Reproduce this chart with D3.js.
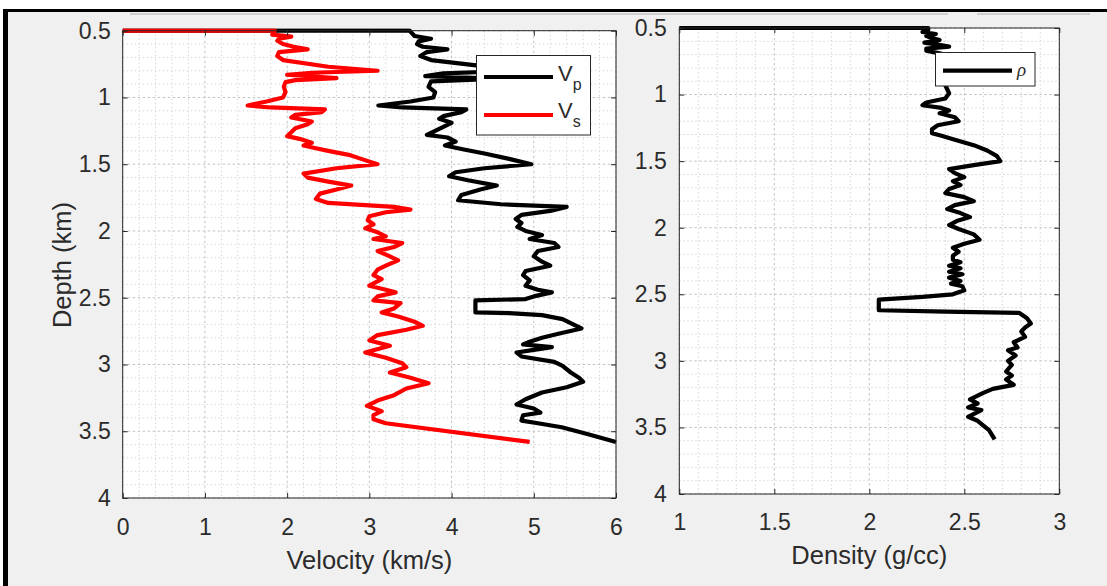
<!DOCTYPE html>
<html>
<head>
<meta charset="utf-8">
<script src="https://cdn.jsdelivr.net/npm/d3@7"></script>
<style>
  html, body { margin: 0; padding: 0; background: #ffffff; }
  svg { display: block; font-family: "Liberation Sans", Arial, Helvetica, sans-serif; }
</style>
</head>
<body>
<svg id="chart" width="1107" height="586"></svg>
<script>
// ---- well-log data: depth (km) and the logged value at that depth ----
const vsDepth = [0.500,0.500,0.510,0.530,0.545,0.560,0.575,0.600,0.620,0.640,0.660,0.690,0.720,0.770,0.800,0.815,0.830,0.855,0.870,0.885,0.920,0.960,1.000,1.030,1.060,1.075,1.090,1.110,1.130,1.150,1.180,1.200,1.230,1.260,1.290,1.310,1.340,1.360,1.380,1.400,1.430,1.460,1.500,1.530,1.570,1.600,1.630,1.660,1.690,1.720,1.760,1.790,1.820,1.840,1.860,1.890,1.920,1.950,1.980,2.010,2.040,2.060,2.090,2.120,2.150,2.190,2.220,2.260,2.290,2.330,2.360,2.410,2.440,2.460,2.490,2.520,2.540,2.580,2.610,2.640,2.680,2.710,2.740,2.780,2.820,2.860,2.910,2.950,2.990,3.020,3.060,3.100,3.140,3.180,3.230,3.270,3.310,3.350,3.380,3.410,3.440,3.580];
const vsVel   = [0.00,1.85,1.84,1.82,2.05,1.90,1.88,1.95,2.08,2.25,1.90,1.88,1.95,2.50,3.10,2.30,2.00,2.60,2.10,1.98,1.96,1.98,1.95,1.75,1.52,1.80,2.46,2.42,2.10,2.05,2.30,2.25,2.10,2.05,2.00,2.15,2.30,2.20,2.35,2.50,2.75,2.90,3.10,2.60,2.20,2.25,2.50,2.78,2.60,2.40,2.35,2.50,3.30,3.50,3.20,3.00,2.98,3.05,2.95,3.10,3.20,3.05,3.40,3.30,3.10,3.25,3.35,3.20,3.10,3.05,3.15,3.00,3.20,3.32,3.10,3.05,3.38,3.30,3.15,3.35,3.55,3.65,3.45,3.10,3.00,3.25,2.95,3.20,3.40,3.45,3.25,3.50,3.72,3.45,3.30,3.10,2.97,3.15,3.05,3.05,3.20,4.95];

const vpDepth = [0.500,0.500,0.520,0.540,0.560,0.580,0.600,0.620,0.640,0.660,0.690,0.720,0.760,0.800,0.820,0.840,0.860,0.880,0.920,0.960,1.000,1.030,1.060,1.075,1.090,1.110,1.140,1.160,1.190,1.220,1.250,1.280,1.300,1.330,1.360,1.390,1.420,1.460,1.500,1.530,1.560,1.590,1.620,1.660,1.690,1.730,1.770,1.800,1.820,1.850,1.880,1.910,1.940,1.970,2.000,2.030,2.060,2.090,2.120,2.150,2.190,2.230,2.260,2.300,2.330,2.370,2.410,2.440,2.460,2.490,2.510,2.520,2.610,2.615,2.630,2.660,2.700,2.730,2.770,2.800,2.830,2.850,2.870,2.890,2.910,2.940,2.980,3.010,3.060,3.100,3.130,3.170,3.210,3.260,3.300,3.330,3.360,3.380,3.420,3.440,3.470,3.520,3.580];
const vpVel   = [0.00,3.49,3.52,3.55,3.75,3.60,3.58,3.65,3.95,3.70,3.62,3.75,4.30,4.80,3.90,3.68,4.60,3.75,3.72,3.80,3.78,3.50,3.11,3.40,4.18,4.12,3.90,3.85,4.00,3.90,3.80,3.70,3.95,4.05,3.92,4.15,4.40,4.70,4.97,4.40,4.05,3.97,4.20,4.55,4.35,4.12,4.08,4.60,5.40,5.20,4.85,4.78,4.85,4.80,4.90,5.10,4.95,5.25,5.30,5.05,5.00,5.10,5.20,4.90,4.87,4.95,4.90,5.05,5.22,5.00,4.90,4.29,4.29,4.70,5.10,5.35,5.48,5.58,5.30,5.10,4.95,4.87,5.22,5.00,4.79,4.85,5.25,5.35,5.45,5.55,5.60,5.40,5.10,4.90,4.79,5.00,5.08,4.87,4.85,5.05,5.34,5.65,6.00];

const rhoDepth = [0.500,0.500,0.515,0.530,0.545,0.560,0.575,0.590,0.610,0.625,0.640,0.655,0.670,0.700,0.750,0.800,0.850,0.900,0.930,0.960,0.990,1.030,1.060,1.080,1.100,1.120,1.140,1.170,1.200,1.230,1.260,1.290,1.310,1.340,1.380,1.420,1.460,1.500,1.530,1.560,1.590,1.620,1.650,1.680,1.710,1.740,1.770,1.800,1.830,1.860,1.890,1.920,1.950,1.980,2.010,2.050,2.090,2.120,2.150,2.180,2.210,2.240,2.260,2.285,2.305,2.330,2.350,2.375,2.400,2.420,2.440,2.470,2.500,2.520,2.540,2.620,2.630,2.640,2.680,2.720,2.750,2.780,2.820,2.860,2.900,2.920,2.960,3.000,3.030,3.080,3.110,3.140,3.180,3.210,3.240,3.290,3.320,3.350,3.370,3.420,3.450,3.520,3.590];
const rhoVal   = [1.00,2.31,2.31,2.28,2.35,2.30,2.33,2.37,2.29,2.36,2.42,2.30,2.30,2.40,2.45,2.43,2.46,2.42,2.40,2.41,2.42,2.40,2.30,2.28,2.38,2.42,2.37,2.45,2.47,2.36,2.33,2.33,2.38,2.45,2.55,2.62,2.67,2.69,2.55,2.42,2.45,2.50,2.44,2.48,2.42,2.40,2.50,2.55,2.45,2.41,2.48,2.53,2.46,2.42,2.47,2.55,2.58,2.50,2.44,2.47,2.44,2.44,2.48,2.42,2.48,2.42,2.49,2.42,2.48,2.43,2.49,2.50,2.44,2.28,2.05,2.05,2.40,2.79,2.83,2.85,2.82,2.80,2.82,2.76,2.78,2.73,2.77,2.73,2.75,2.72,2.75,2.72,2.76,2.65,2.60,2.53,2.57,2.52,2.59,2.52,2.57,2.63,2.66];

// ---- axis tick labels ----
const depthTicks    = [0.5, 1, 1.5, 2, 2.5, 3, 3.5, 4];
const velocityTicks = [0, 1, 2, 3, 4, 5, 6];
const densityTicks  = [1, 1.5, 2, 2.5, 3];

const W = 1107, H = 586;
const svg = d3.select("#chart");
const TEXT = "#2b2b2b";
const AXIS = "#262626";
const TICK_FS = 23, LABEL_FS = 25.5, LINE_W = 4.2;

// figure window background and frame
svg.append("rect").attr("x", 8).attr("y", 12).attr("width", W).attr("height", H).attr("fill", "#f0f0f0");
svg.append("rect").attr("x", 3).attr("y", 9).attr("width", W).attr("height", 3).attr("fill", "#000");
svg.append("rect").attr("x", 3).attr("y", 9).attr("width", 5).attr("height", H).attr("fill", "#000");
svg.append("rect").attr("x", 130).attr("y", 13).attr("width", 818).attr("height", 2).attr("fill", "#cfcfcf");
svg.append("rect").attr("x", 977).attr("y", 13).attr("width", 113).attr("height", 2).attr("fill", "#cfcfcf");

const toPoints = (depths, vals) => depths.map((d, i) => ({ d: d, v: vals[i] }));

function drawPanel(cfg) {
  const g = svg.append("g");
  const x = d3.scaleLinear().domain(cfg.xDomain).range([cfg.left, cfg.right]);
  const y = d3.scaleLinear().domain([0.5, 4]).range([cfg.top, cfg.bottom]);

  g.append("rect")
    .attr("x", cfg.left).attr("y", cfg.top)
    .attr("width", cfg.right - cfg.left).attr("height", cfg.bottom - cfg.top)
    .attr("fill", "#ffffff");

  // minor + major grid (dotted)
  const near = (a, list) => list.some(t => Math.abs(t - a) < 1e-6);
  const xMinor = d3.range(cfg.xDomain[0], cfg.xDomain[1] + 1e-9, cfg.xMinorStep)
    .filter(v => !near(v, cfg.xTicks));
  const yMinor = d3.range(0.5, 4 + 1e-9, 0.1).filter(v => !near(v, depthTicks));

  const grid = g.append("g");
  grid.selectAll("line.xm").data(xMinor).join("line")
    .attr("x1", d => x(d)).attr("x2", d => x(d))
    .attr("y1", cfg.top).attr("y2", cfg.bottom)
    .attr("stroke", "#d6d6d6").attr("stroke-width", 1).attr("stroke-dasharray", "1.5,2.5");
  grid.selectAll("line.ym").data(yMinor).join("line")
    .attr("y1", d => y(d)).attr("y2", d => y(d))
    .attr("x1", cfg.left).attr("x2", cfg.right)
    .attr("stroke", "#d6d6d6").attr("stroke-width", 1).attr("stroke-dasharray", "1.5,2.5");
  grid.selectAll("line.xM").data(cfg.xTicks).join("line")
    .attr("x1", d => x(d)).attr("x2", d => x(d))
    .attr("y1", cfg.top).attr("y2", cfg.bottom)
    .attr("stroke", "#c2c2c2").attr("stroke-width", 1).attr("stroke-dasharray", "2.5,2.5");
  grid.selectAll("line.yM").data(depthTicks).join("line")
    .attr("y1", d => y(d)).attr("y2", d => y(d))
    .attr("x1", cfg.left).attr("x2", cfg.right)
    .attr("stroke", "#c2c2c2").attr("stroke-width", 1).attr("stroke-dasharray", "2.5,2.5");

  // log curves, clipped to the axes area
  const clipId = "clip-" + cfg.id;
  svg.append("defs").append("clipPath").attr("id", clipId)
    .append("rect")
    .attr("x", cfg.left - 2).attr("y", cfg.top - 2.5)
    .attr("width", cfg.right - cfg.left + 4).attr("height", cfg.bottom - cfg.top + 5);

  const line = d3.line().x(p => x(p.v)).y(p => y(p.d));
  const curves = g.append("g").attr("clip-path", `url(#${clipId})`);
  cfg.series.forEach(s => {
    curves.append("path")
      .datum(s.points)
      .attr("d", line)
      .attr("fill", "none")
      .attr("stroke", s.color)
      .attr("stroke-width", LINE_W)
      .attr("stroke-linejoin", "round")
      .attr("stroke-linecap", "butt");
  });

  // axes with inward ticks on all four sides
  const styleAxis = sel => {
    sel.select(".domain").remove();
    sel.selectAll(".tick line").attr("stroke", AXIS).attr("stroke-width", 1);
    sel.selectAll(".tick text").attr("fill", TEXT).style("font-size", TICK_FS + "px");
  };
  const fmt = d => String(d);

  g.append("g").attr("transform", `translate(0,${cfg.bottom})`)
    .call(d3.axisBottom(x).tickValues(cfg.xTicks).tickSize(-5).tickPadding(cfg.xPad).tickFormat(fmt))
    .call(styleAxis);
  g.append("g").attr("transform", `translate(0,${cfg.top})`)
    .call(d3.axisTop(x).tickValues(cfg.xTicks).tickSize(-5).tickFormat(""))
    .call(styleAxis);
  g.append("g").attr("transform", `translate(${cfg.left},0)`)
    .call(d3.axisLeft(y).tickValues(depthTicks).tickSize(-5).tickPadding(cfg.yPad).tickFormat(fmt))
    .call(styleAxis);
  g.append("g").attr("transform", `translate(${cfg.right},0)`)
    .call(d3.axisRight(y).tickValues(depthTicks).tickSize(-5).tickFormat(""))
    .call(styleAxis);

  g.append("rect")
    .attr("x", cfg.left).attr("y", cfg.top)
    .attr("width", cfg.right - cfg.left).attr("height", cfg.bottom - cfg.top)
    .attr("fill", "none").attr("stroke", AXIS).attr("stroke-width", 1);

  // x-axis title
  g.append("text")
    .attr("x", (cfg.left + cfg.right) / 2).attr("y", cfg.xLabelY)
    .attr("text-anchor", "middle").attr("dominant-baseline", "central")
    .attr("fill", TEXT).style("font-size", LABEL_FS + "px")
    .text(cfg.xLabel);

  return { g, x, y };
}

// ---- left panel: P- and S-wave velocity ----
drawPanel({
  id: "vel", left: 122.7, right: 616, top: 30.7, bottom: 498,
  xDomain: [0, 6], xTicks: velocityTicks, xMinorStep: 0.2,
  xPad: 21, yPad: 12, xLabel: "Velocity (km/s)", xLabelY: 560,
  series: [
    { color: "#000000", points: toPoints(vpDepth, vpVel) },
    { color: "#ff0000", points: toPoints(vsDepth, vsVel) }
  ]
});

svg.append("text")
  .attr("transform", "translate(62,265) rotate(-90)")
  .attr("text-anchor", "middle").attr("dominant-baseline", "central")
  .attr("fill", TEXT).style("font-size", LABEL_FS + "px")
  .text("Depth (km)");

// legend: Vp / Vs
const lg = svg.append("g");
lg.append("rect").attr("x", 476.5).attr("y", 55.5).attr("width", 114).attr("height", 79.5)
  .attr("fill", "#fff").attr("stroke", AXIS).attr("stroke-width", 1);
[
  { color: "#000000", y: 77, base: "V", sub: "p", ty: 80.5 },
  { color: "#ff0000", y: 115, base: "V", sub: "s", ty: 117.5 }
].forEach(e => {
  lg.append("line").attr("x1", 484).attr("x2", 553).attr("y1", e.y).attr("y2", e.y)
    .attr("stroke", e.color).attr("stroke-width", LINE_W);
  const t = lg.append("text").attr("x", 558).attr("y", e.ty).attr("fill", TEXT).style("font-size", "22px");
  t.append("tspan").text(e.base);
  t.append("tspan").attr("dy", 9).style("font-size", "16px").text(e.sub);
});

// ---- right panel: bulk density ----
drawPanel({
  id: "rho", left: 679.3, right: 1059.3, top: 28, bottom: 494,
  xDomain: [1, 3], xTicks: densityTicks, xMinorStep: 0.1,
  xPad: 20, yPad: 12.5, xLabel: "Density (g/cc)", xLabelY: 555,
  series: [
    { color: "#000000", points: toPoints(rhoDepth, rhoVal) }
  ]
});

// legend: rho
const rg = svg.append("g");
rg.append("rect").attr("x", 935.5).attr("y", 52.5).attr("width", 99.5).attr("height", 33.5)
  .attr("fill", "#fff").attr("stroke", AXIS).attr("stroke-width", 1);
rg.append("line").attr("x1", 943).attr("x2", 1012).attr("y1", 70.7).attr("y2", 70.7)
  .attr("stroke", "#000").attr("stroke-width", LINE_W);
rg.append("text").attr("x", 1017).attr("y", 76)
  .attr("fill", TEXT)
  .style("font-family", "'Liberation Serif', 'DejaVu Serif', serif")
  .style("font-style", "italic").style("font-size", "19px")
  .text("ρ");
</script>
</body>
</html>
